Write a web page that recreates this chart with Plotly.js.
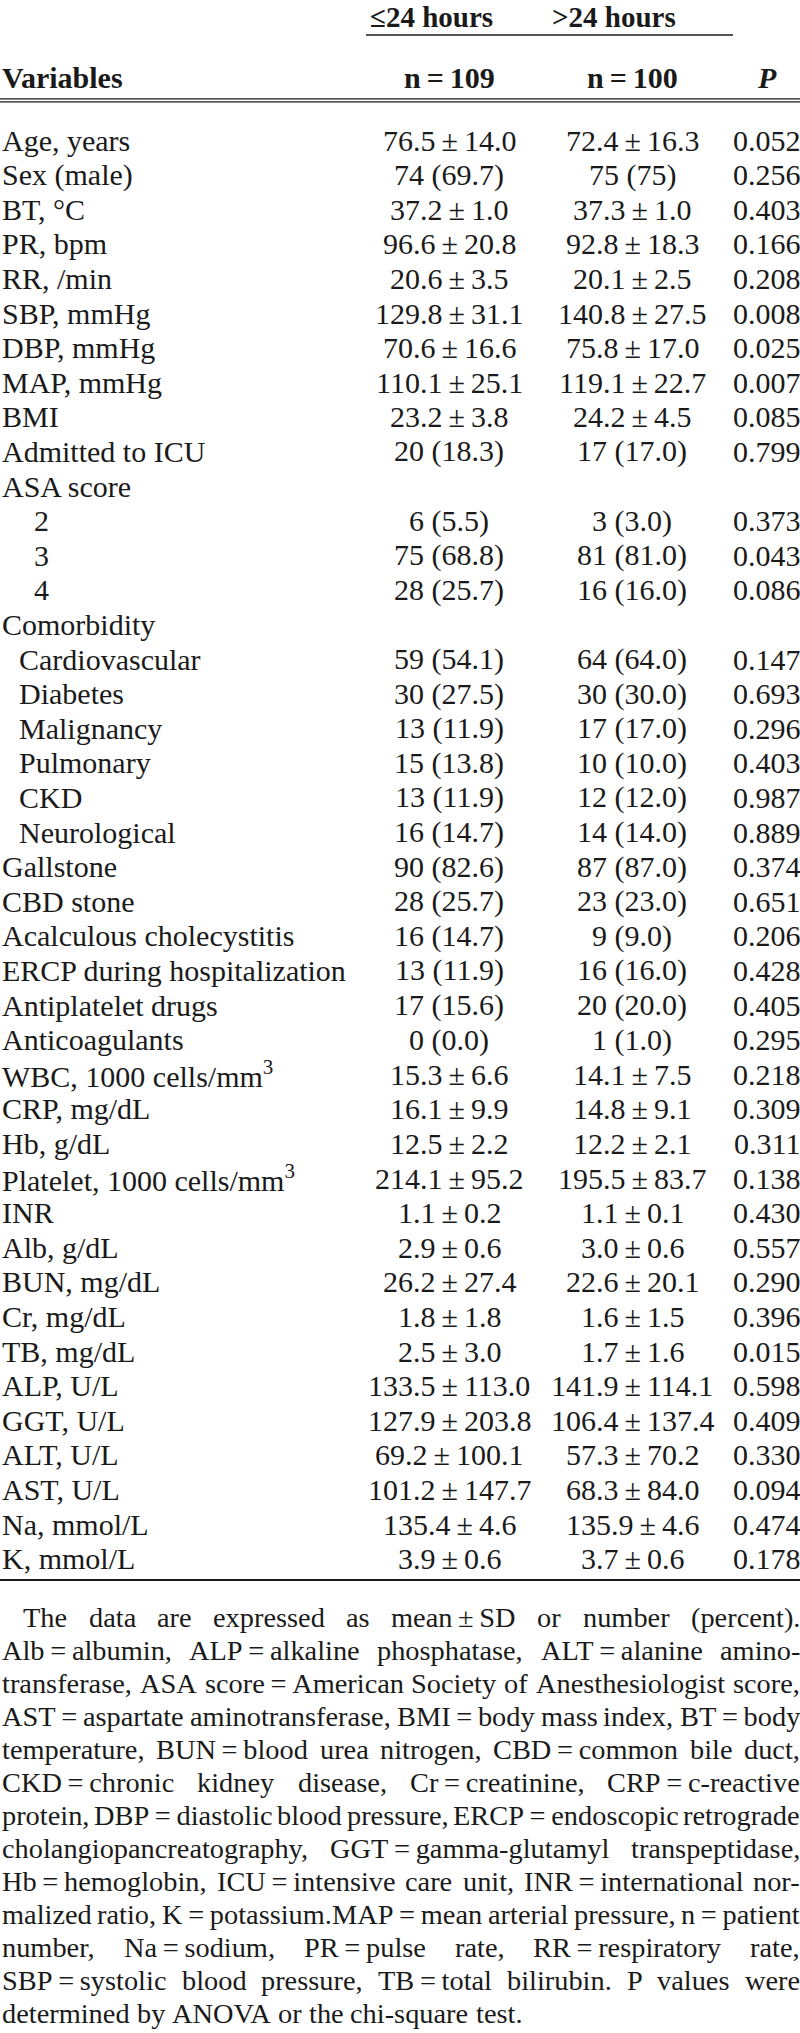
<!DOCTYPE html>
<html><head><meta charset="utf-8">
<script src="https://cdn.plot.ly/plotly-3.0.1.min.js"></script>
<style>html,body{margin:0;padding:0;background:#fff}</style>
</head><body><div id="chart" style="width:800px;height:2033px"></div>
<script>
// ---------------- data ----------------
const groupHeaders = ["≤24 hours", ">24 hours"];
const groupN = ["n = 109", "n = 100"];
const variables = ["Age, years","Sex (male)","BT, °C","PR, bpm","RR, /min","SBP, mmHg","DBP, mmHg","MAP, mmHg","BMI","Admitted to ICU","ASA score","2","3","4","Comorbidity","Cardiovascular","Diabetes","Malignancy","Pulmonary","CKD","Neurological","Gallstone","CBD stone","Acalculous cholecystitis","ERCP during hospitalization","Antiplatelet drugs","Anticoagulants","WBC, 1000 cells/mm<sup>3</sup>","CRP, mg/dL","Hb, g/dL","Platelet, 1000 cells/mm<sup>3</sup>","INR","Alb, g/dL","BUN, mg/dL","Cr, mg/dL","TB, mg/dL","ALP, U/L","GGT, U/L","ALT, U/L","AST, U/L","Na, mmol/L","K, mmol/L"];
const indentLevel = [0,0,0,0,0,0,0,0,0,0,0,2,2,2,0,1,1,1,1,1,1,0,0,0,0,0,0,0,0,0,0,0,0,0,0,0,0,0,0,0,0,0];
const within24h = ["76.5 ± 14.0","74 (69.7)","37.2 ± 1.0","96.6 ± 20.8","20.6 ± 3.5","129.8 ± 31.1","70.6 ± 16.6","110.1 ± 25.1","23.2 ± 3.8","20 (18.3)","","6 (5.5)","75 (68.8)","28 (25.7)","","59 (54.1)","30 (27.5)","13 (11.9)","15 (13.8)","13 (11.9)","16 (14.7)","90 (82.6)","28 (25.7)","16 (14.7)","13 (11.9)","17 (15.6)","0 (0.0)","15.3 ± 6.6","16.1 ± 9.9","12.5 ± 2.2","214.1 ± 95.2","1.1 ± 0.2","2.9 ± 0.6","26.2 ± 27.4","1.8 ± 1.8","2.5 ± 3.0","133.5 ± 113.0","127.9 ± 203.8","69.2 ± 100.1","101.2 ± 147.7","135.4 ± 4.6","3.9 ± 0.6"];
const over24h = ["72.4 ± 16.3","75 (75)","37.3 ± 1.0","92.8 ± 18.3","20.1 ± 2.5","140.8 ± 27.5","75.8 ± 17.0","119.1 ± 22.7","24.2 ± 4.5","17 (17.0)","","3 (3.0)","81 (81.0)","16 (16.0)","","64 (64.0)","30 (30.0)","17 (17.0)","10 (10.0)","12 (12.0)","14 (14.0)","87 (87.0)","23 (23.0)","9 (9.0)","16 (16.0)","20 (20.0)","1 (1.0)","14.1 ± 7.5","14.8 ± 9.1","12.2 ± 2.1","195.5 ± 83.7","1.1 ± 0.1","3.0 ± 0.6","22.6 ± 20.1","1.6 ± 1.5","1.7 ± 1.6","141.9 ± 114.1","106.4 ± 137.4","57.3 ± 70.2","68.3 ± 84.0","135.9 ± 4.6","3.7 ± 0.6"];
const pValues = ["0.052","0.256","0.403","0.166","0.208","0.008","0.025","0.007","0.085","0.799","","0.373","0.043","0.086","","0.147","0.693","0.296","0.403","0.987","0.889","0.374","0.651","0.206","0.428","0.405","0.295","0.218","0.309","0.311","0.138","0.430","0.557","0.290","0.396","0.015","0.598","0.409","0.330","0.094","0.474","0.178"];
const footnoteLines = [
 "The data are expressed as mean ± SD or number (percent).",
 "Alb = albumin, ALP = alkaline phosphatase, ALT = alanine amino-",
 "transferase, ASA score = American Society of Anesthesiologist score,",
 "AST = aspartate aminotransferase, BMI = body mass index, BT = body",
 "temperature, BUN = blood urea nitrogen, CBD = common bile duct,",
 "CKD = chronic kidney disease, Cr = creatinine, CRP = c-reactive",
 "protein, DBP = diastolic blood pressure, ERCP = endoscopic retrograde",
 "cholangiopancreatography, GGT = gamma-glutamyl transpeptidase,",
 "Hb = hemoglobin, ICU = intensive care unit, INR = international nor-",
 "malized ratio, K = potassium.MAP = mean arterial pressure, n = patient",
 "number, Na = sodium, PR = pulse rate, RR = respiratory rate,",
 "SBP = systolic blood pressure, TB = total bilirubin. P values were",
 "determined by ANOVA or the chi-square test."
];

// ---------------- layout constants ----------------
const W = 800, H = 2033;
const FONT = "Liberation Serif";
const COLOR = "#1a1a1a";
const TS = 30;           // table font size
const COL1 = 449, COL2 = 632, COLP = 767;
const ROW0 = 140, DY = 34.6;
const FOOT0 = 1617, FOOT_LAST = 2013, FOOT_INDENT = 22;
const FDY = (FOOT_LAST - FOOT0) / (footnoteLines.length - 1);
const INDENTS = [1, 18, 33];
const THIN = "\u2009";
const tidy = s => s.replace(/ ± /g, THIN + "±" + THIN).replace(/ = /g, THIN + "=" + THIN);

const ann = [];
function A(x, y, text, xa, font) {
  ann.push({x, y, xref: "x", yref: "y", text, showarrow: false, xanchor: xa, yanchor: "middle",
            borderpad: 0, font: Object.assign({family: FONT, size: TS, color: COLOR}, font || {})});
}

// header
A(431, 17, "<b>" + groupHeaders[0] + "</b>", "center", {size: 29});
A(614, 17, "<b>" + groupHeaders[1] + "</b>", "center", {size: 29});
A(1, 77, "<b>Variables</b>", "left");
A(COL1, 77, "<b>" + tidy(groupN[0]) + "</b>", "center");
A(COL2, 77, "<b>" + tidy(groupN[1]) + "</b>", "center");
A(COLP, 77, "<b><i>P</i></b>", "center");

// body rows
variables.forEach((v, i) => {
  const y = ROW0 + i * DY;
  A(INDENTS[indentLevel[i]], y, v, "left");
  if (within24h[i]) A(COL1, y, tidy(within24h[i]), "center");
  if (over24h[i]) A(COL2, y, tidy(over24h[i]), "center");
  if (pValues[i]) A(COLP, y, pValues[i], "center");
});

// footnote, justified; font size chosen so that the tightest line still fits
const ctx = document.createElement("canvas").getContext("2d");
const measure = (s, size) => { ctx.font = size + "px '" + FONT + "'"; return ctx.measureText(s).width; };
let need = 0;
footnoteLines.forEach((line, i) => {
  const x0 = i === 0 ? FOOT_INDENT : 1;
  need = Math.max(need, (x0 + measure(tidy(line), 100) / 100 * 1) );
});
let FS = 29;
footnoteLines.forEach((line, i) => {
  const x0 = i === 0 ? FOOT_INDENT : 1;
  const wNat = measure(tidy(line), 29) * 0.985;
  if (x0 + wNat > W - 1) FS = Math.min(FS, 29 * (W - 1 - x0) / wNat);
});
footnoteLines.forEach((line, i) => {
  const y = FOOT0 + i * FDY;
  const x0 = i === 0 ? FOOT_INDENT : 1;
  const words = tidy(line).split(" ");
  const widths = words.map(w => measure(w, FS));
  const total = widths.reduce((a, b) => a + b, 0);
  const last = i === footnoteLines.length - 1;
  const gap = last ? measure(" ", FS) : (W - 1 - x0 - total) / (words.length - 1);
  let x = x0;
  words.forEach((w, k) => { A(x, y, w, "left", {size: FS}); x += widths[k] + gap; });
});

const ln = (x0, x1, y, w) => ({type: "line", xref: "x", yref: "y", x0, x1, y0: y, y1: y, line: {color: COLOR, width: w}});
const shapes = [
  ln(366, 733, 35, 1.5),
  ln(0, 800, 98.8, 1.3),
  ln(0, 800, 101.8, 1.3),
  ln(0, 800, 1580, 2)
];

Plotly.newPlot("chart", [], {
  width: W, height: H, margin: {l: 0, r: 0, t: 0, b: 0},
  paper_bgcolor: "#fff", plot_bgcolor: "#fff", showlegend: false,
  xaxis: {range: [0, W], visible: false, fixedrange: true},
  yaxis: {range: [H, 0], visible: false, fixedrange: true},
  annotations: ann, shapes: shapes
}, {staticPlot: true, displayModeBar: false});
</script></body></html>
